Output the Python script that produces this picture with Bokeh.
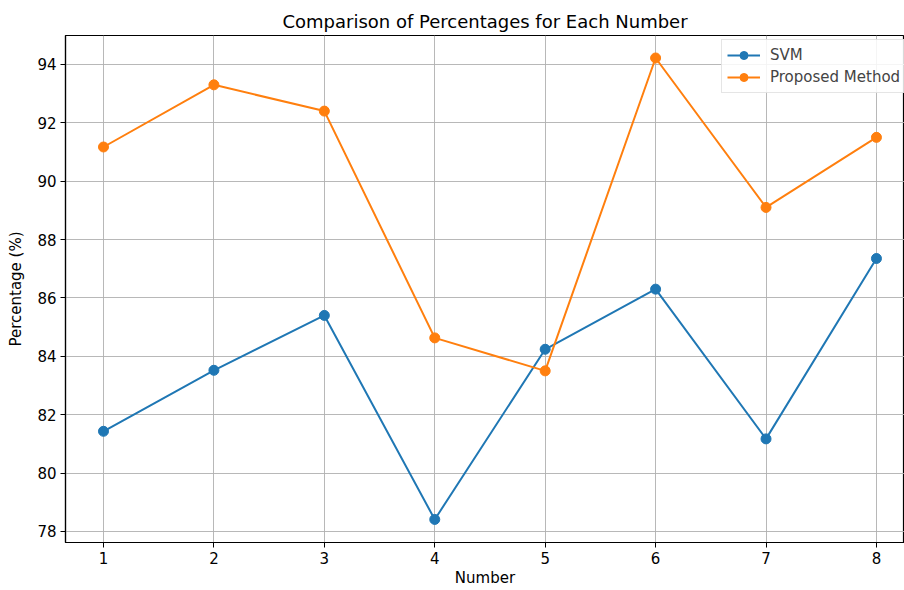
from bokeh.plotting import figure
from bokeh.models import Range1d, Legend, LegendItem, FixedTicker
from bokeh.embed import file_html
from bokeh.resources import INLINE

numbers = [1, 2, 3, 4, 5, 6, 7, 8]
svm = [81.43, 83.52, 85.40, 78.41, 84.24, 86.30, 81.17, 87.35]
proposed = [91.17, 93.30, 92.40, 84.63, 83.50, 94.22, 89.10, 91.50]
y_ticks = [78, 80, 82, 84, 86, 88, 90, 92, 94]

FONT = "DejaVu Sans"

p = figure(width=904, height=590, output_backend="svg", toolbar_location=None,
           x_range=Range1d(0.656, 8.254), y_range=Range1d(77.62, 94.99),
           min_border_left=65, min_border_right=0, min_border_top=35, min_border_bottom=48)

p.title.text = "Comparison of Percentages for Each Number"
p.title.align = "center"
p.title.text_font = FONT
p.title.text_font_size = "18px"
p.title.text_font_style = "normal"
p.title.text_color = "black"
p.title.offset = 0
p.title.standoff = 7

p.outline_line_color = "black"
p.outline_line_width = 1.2

p.xaxis.ticker = FixedTicker(ticks=numbers)
p.yaxis.ticker = FixedTicker(ticks=y_ticks)
for ax in (p.xaxis, p.yaxis):
    ax.axis_line_color = "black"
    ax.axis_line_width = 1.2
    ax.major_tick_out = 5
    ax.major_tick_in = 0
    ax.minor_tick_line_color = None
    ax.major_tick_line_color = "black"
    ax.major_label_text_font = FONT
    ax.major_label_text_font_size = "15px"
    ax.major_label_text_color = "black"
    ax.axis_label_text_font = FONT
    ax.axis_label_text_font_size = "15px"
    ax.axis_label_text_font_style = "normal"
    ax.axis_label_text_color = "black"

p.xaxis.axis_label = "Number"
p.yaxis.axis_label = "Percentage (%)"
p.xaxis.major_label_standoff = 4
p.yaxis.major_label_standoff = 4
p.xaxis.axis_label_standoff = 2
p.yaxis.axis_label_standoff = 9

p.grid.grid_line_color = "#b0b0b0"
p.grid.grid_line_width = 1
p.grid.grid_line_alpha = 0.9

l1 = p.line(numbers, svm, line_color="#1f77b4", line_width=2)
c1 = p.scatter(numbers, svm, size=10, fill_color="#1f77b4", line_color="#1f77b4")
l2 = p.line(numbers, proposed, line_color="#ff7f0e", line_width=2)
c2 = p.scatter(numbers, proposed, size=10, fill_color="#ff7f0e", line_color="#ff7f0e")

legend = Legend(items=[LegendItem(label="SVM", renderers=[l1, c1]),
                       LegendItem(label="Proposed Method", renderers=[l2, c2])],
                location=(656, 449))
legend.label_text_font = FONT
legend.label_text_font_size = "15px"
legend.border_line_color = "#cccccc"
legend.border_line_width = 1
legend.background_fill_alpha = 0.85
legend.glyph_width = 33
legend.spacing = 2
legend.padding = 5
legend.margin = 0
legend.label_standoff = 10
legend.label_height = 17
p.add_layout(legend)

open("out.html", "w").write(file_html(p, INLINE))
